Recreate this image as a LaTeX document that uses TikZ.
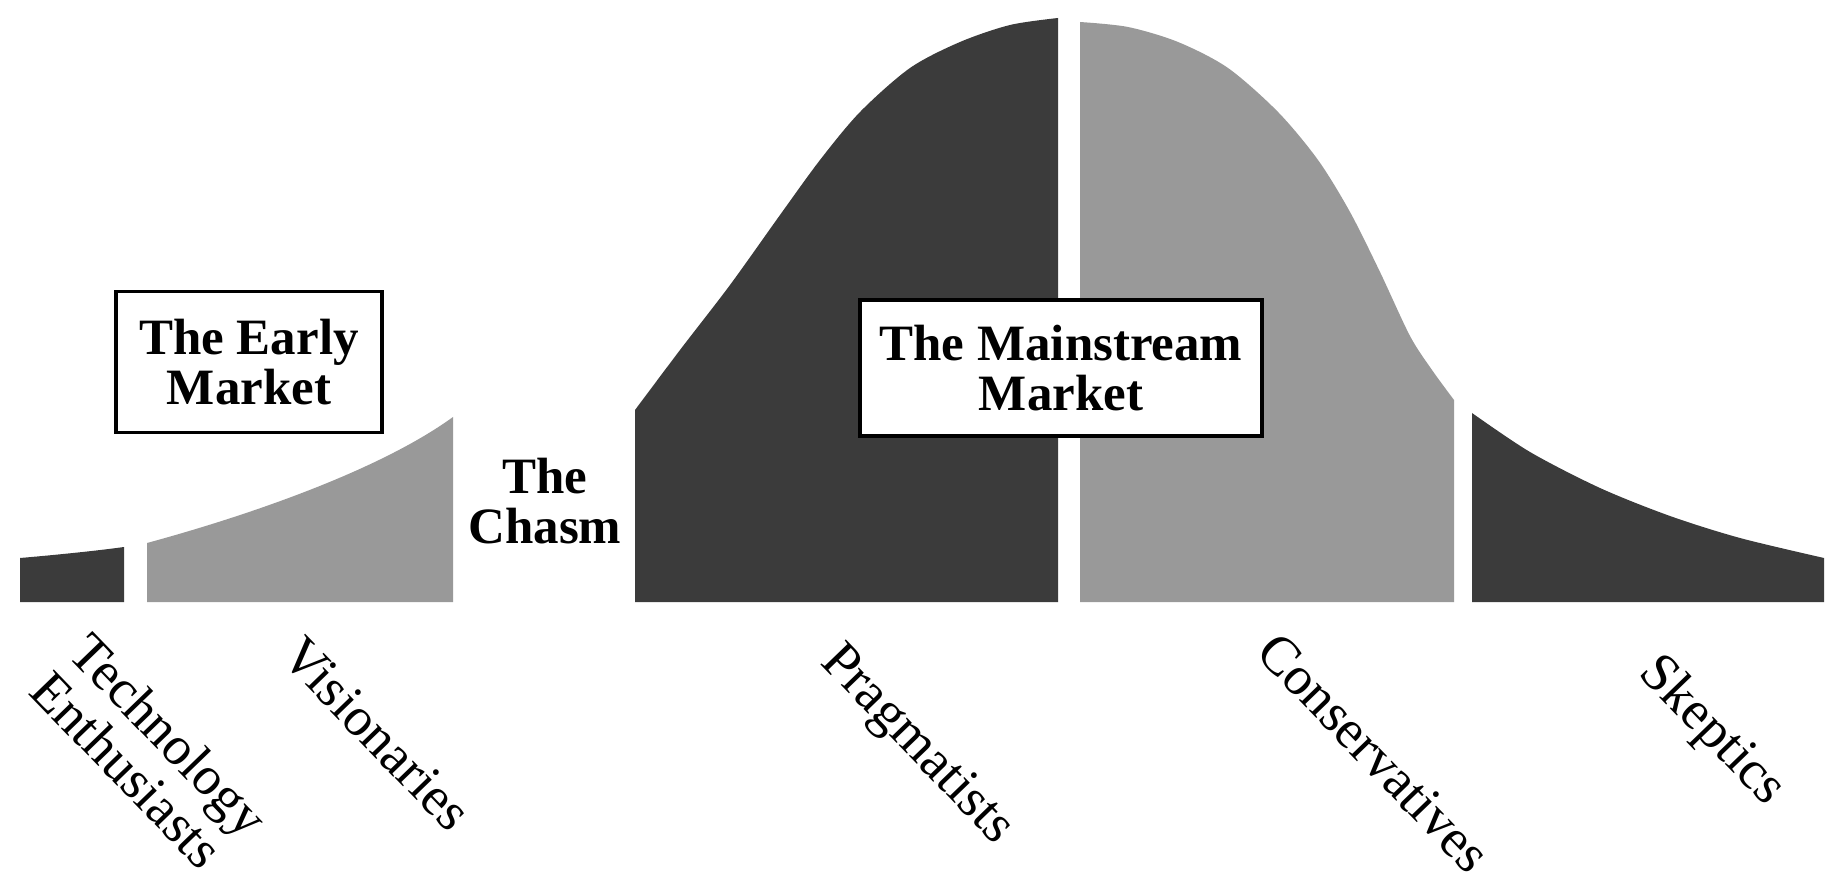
\documentclass[tikz,border=0pt]{standalone}
\usepackage{fontspec}
\setmainfont{Liberation Serif}
\usetikzlibrary{positioning}
\definecolor{segdark}{gray}{0.23}
\definecolor{seglight}{gray}{0.60}

\begin{document}
\begin{tikzpicture}[%
  x=0.1mm, y=-0.1mm,
  market/.style={draw=black, line width=1pt, fill=white, align=center,
    inner sep=0pt, font=\fontsize{14.5}{14.2}\selectfont\bfseries},
  segname/.style={rotate=-46, anchor=north west, inner sep=0pt, align=left,
    font=\fontsize{15.5}{15.5}\selectfont},
]

  \useasboundingbox (0,0) rectangle (1826,880);

  % early market
  \fill[segdark] (20,602) -- (20,558) .. controls (55,555) and (95,551) .. (124,547) -- (124,602) -- cycle;
  \fill[seglight] (147,602) -- (147,543) .. controls (250,515) and (380,470) .. (453,417) -- (453,602) -- cycle;

  % mainstream market
  \fill[segdark] (635,602) -- plot[smooth] coordinates {(635,410) (680,350) (730,285) (780,215) (820,160)
    (860,112) (910,68) (960,42) (1010,25) (1058,18)} -- (1058,602) -- cycle;
  \fill[seglight] (1080,602) -- plot[smooth] coordinates {(1080,22) (1128,27) (1178,42) (1228,68) (1278,112)
    (1318,160) (1350,212) (1380,272) (1410,336) (1432,370) (1454,400)} -- (1454,602) -- cycle;
  \fill[segdark] (1472,602) -- plot[smooth] coordinates {(1472,413) (1530,452) (1600,488) (1670,516)
    (1740,538) (1824,558)} -- (1824,602) -- cycle;

  \node[market, minimum width=26.6mm, minimum height=14.1mm] (early) at (249,362) {The Early\\Market};
  \node[market, minimum width=40.2mm, minimum height=13.6mm] (mainstream) at (1061,368) {The Mainstream\\Market};
  \node[align=center, inner sep=0pt, font=\fontsize{14.5}{14.2}\selectfont\bfseries] (chasm) at (545,501) {The\\Chasm};

  \node[segname] (enthusiasts) at (94,628) {Technology\\Enthusiasts};
  \node[segname] (visionaries) at (305,632) {Visionaries};
  \node[segname] (pragmatists) at (845,637) {Pragmatists};
  \node[segname] (conservatives) at (1280,628) {Conservatives};
  \node[segname] (skeptics) at (1665,647) {Skeptics};

\end{tikzpicture}
\end{document}
